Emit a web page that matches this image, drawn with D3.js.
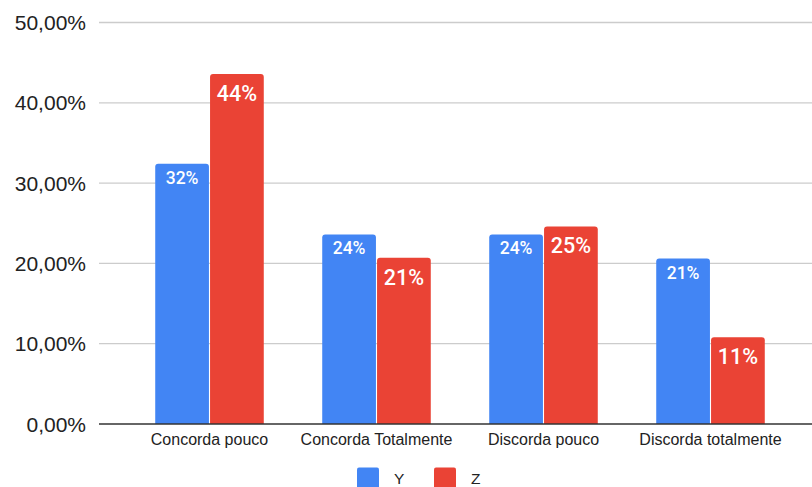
<!DOCTYPE html>
<html>
<head>
<meta charset="utf-8">
<script src="https://cdn.jsdelivr.net/npm/d3@7"></script>
<style>
  body { margin: 0; background: #fff; }
  .chart text { font-family: "Liberation Sans", Arial, sans-serif; }
  .chart text.val { font-family: Roboto, "Liberation Sans", Arial, sans-serif; font-weight: 500; }
</style>
</head>
<body>
<div class="chart"></div>
<script>
var categories = ['Concorda pouco', 'Concorda Totalmente', 'Discorda pouco', 'Discorda totalmente'];
var series = ['Y', 'Z'];
var valuesY = [0.324, 0.236, 0.236, 0.206];
var valuesZ = [0.436, 0.207, 0.246, 0.108];
var yTicks = [0, 0.1, 0.2, 0.3, 0.4, 0.5];
var colors = ['#4285F4', '#EA4335'];

var width = 812, height = 487;

var svg = d3.select('.chart')
  .append('svg')
  .attr('width', width)
  .attr('height', height);

var ptBR = d3.formatLocale({ decimal: ',', thousands: '.', grouping: [3], currency: ['R$', ''] });
var tickFmt = ptBR.format('.2%');
var labelFmt = d3.format('.0%');

var y = d3.scaleLinear().domain([0, 0.5]).range([424, 22.5]);
var x0 = d3.scaleBand().domain(categories).range([126, 794]).paddingInner(0.35).paddingOuter(0.175);
var x1 = d3.scaleBand().domain(series).range([0, x0.bandwidth()]).paddingInner(0.02);
var color = d3.scaleOrdinal().domain(series).range(colors);

// gridlines
svg.append('g')
  .selectAll('line')
  .data(yTicks.filter(d => d > 0))
  .enter()
  .append('line')
  .attr('x1', 99).attr('x2', width)
  .attr('y1', d => y(d)).attr('y2', d => y(d))
  .attr('stroke', '#cccccc')
  .attr('stroke-width', 1.3);

// y axis labels
svg.append('g')
  .selectAll('text')
  .data(yTicks)
  .enter()
  .append('text')
  .attr('x', 86)
  .attr('y', d => y(d))
  .attr('dy', '0.36em')
  .attr('text-anchor', 'end')
  .attr('fill', '#222')
  .style('font-size', '21px')
  .text(d => tickFmt(d));

var rows = categories.map((c, i) => ({ cat: c, vals: [{ s: 'Y', v: valuesY[i] }, { s: 'Z', v: valuesZ[i] }] }));

function topRounded(x, yTop, w, yBot, r) {
  return 'M' + x + ',' + yBot +
    'V' + (yTop + r) +
    'Q' + x + ',' + yTop + ' ' + (x + r) + ',' + yTop +
    'H' + (x + w - r) +
    'Q' + (x + w) + ',' + yTop + ' ' + (x + w) + ',' + (yTop + r) +
    'V' + yBot + 'Z';
}

var groups = svg.append('g')
  .selectAll('g')
  .data(rows)
  .enter()
  .append('g')
  .attr('transform', d => 'translate(' + x0(d.cat) + ',0)');

groups.selectAll('path')
  .data(d => d.vals)
  .enter()
  .append('path')
  .attr('d', d => topRounded(x1(d.s), y(d.v), x1.bandwidth(), y(0), 3))
  .attr('fill', d => color(d.s));

// value labels: Y smaller, Z larger
groups.selectAll('text')
  .data(d => d.vals)
  .enter()
  .append('text')
  .attr('class', 'val')
  .attr('x', d => x1(d.s) + x1.bandwidth() / 2)
  .attr('y', d => y(d.v) + (d.s === 'Y' ? 20 : 27))
  .attr('text-anchor', 'middle')
  .attr('fill', '#fff')
  .style('font-size', d => d.s === 'Y' ? '17.5px' : '21.5px')
  .text(d => labelFmt(d.v));

// baseline
svg.append('line')
  .attr('x1', 99).attr('x2', width)
  .attr('y1', y(0)).attr('y2', y(0))
  .attr('stroke', '#333')
  .attr('stroke-width', 1.3);

// category labels
svg.append('g')
  .selectAll('text')
  .data(categories)
  .enter()
  .append('text')
  .attr('x', d => x0(d) + x0.bandwidth() / 2)
  .attr('y', 445)
  .attr('text-anchor', 'middle')
  .attr('fill', '#222')
  .style('font-size', '16px')
  .text(d => d);

// legend
var legendX = [357, 434];
var legend = svg.append('g')
  .selectAll('g')
  .data(series)
  .enter()
  .append('g')
  .attr('transform', (d, i) => 'translate(' + legendX[i] + ',467.5)');

legend.append('rect')
  .attr('width', 22).attr('height', 22)
  .attr('rx', 2)
  .attr('fill', d => color(d));

legend.append('text')
  .attr('x', 37)
  .attr('y', 10.5)
  .attr('dy', '0.36em')
  .attr('fill', '#222')
  .style('font-size', '15.5px')
  .text(d => d);
</script>
</body>
</html>
